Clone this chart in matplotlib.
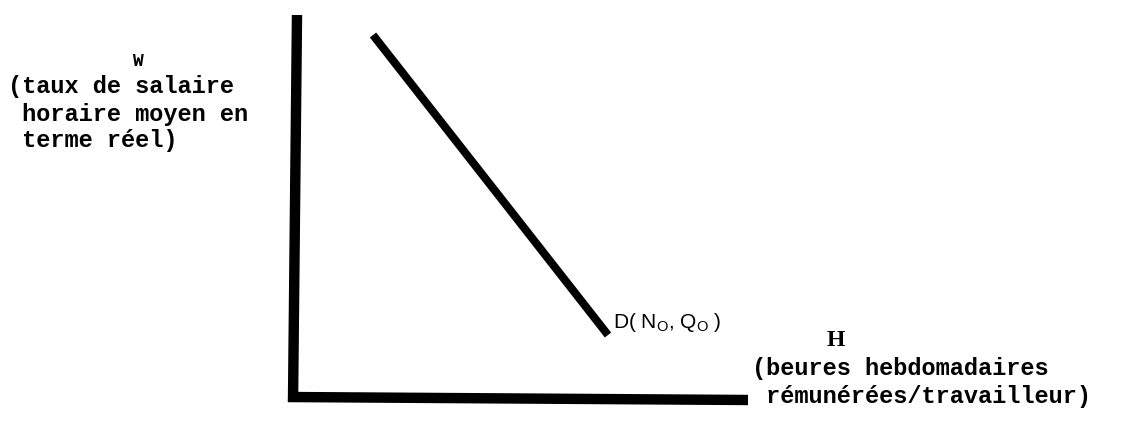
import matplotlib
matplotlib.use("Agg")
import matplotlib.pyplot as plt

# schematic points, in picture units (x right, y down)
w_axis_x = [297, 293]
w_axis_y = [15, 402]
h_axis_x = [288, 748]
h_axis_y = [397, 400]
demand_x = [373, 608]
demand_y = [35, 335]

w_label = ["W", "(taux de salaire", " horaire moyen en", " terme réel)"]
h_label = ["H", "(beures hebdomadaires", " rémunérées/travailleur)"]
curve_label = "D( N$_\\mathregular{O}$, Q$_\\mathregular{O}$ )"

fig = plt.figure(figsize=(11.37, 4.47), dpi=100)
ax = fig.add_axes([0, 0, 1, 1])
ax.set_xlim(0, 1137)
ax.set_ylim(447, 0)
ax.axis("off")

ax.plot(w_axis_x, w_axis_y, color="black", lw=7.5, solid_capstyle="butt")
ax.plot(h_axis_x, h_axis_y, color="black", lw=7.5, solid_capstyle="butt")
ax.plot(demand_x, demand_y, color="black", lw=5.8, solid_capstyle="butt")

mono = dict(family="Liberation Mono", weight="bold", fontsize=17, color="black")
ax.text(137, 62, w_label[0], ha="center", va="center",
        family="Liberation Mono", weight="bold", fontsize=13)
for i, s in enumerate(w_label[1:]):
    ax.text(8, 87 + 27 * i, s, ha="left", va="center", **mono)

ax.text(836, 340, h_label[0], ha="center", va="center",
        family="Liberation Serif", weight="bold", fontsize=17)
for i, s in enumerate(h_label[1:]):
    ax.text(752, 369 + 27 * i, s, ha="left", va="center", **mono)

ax.text(613, 322, curve_label, ha="left", va="center",
        family="Liberation Sans", fontsize=15)

fig.savefig("out.png", dpi=100)
